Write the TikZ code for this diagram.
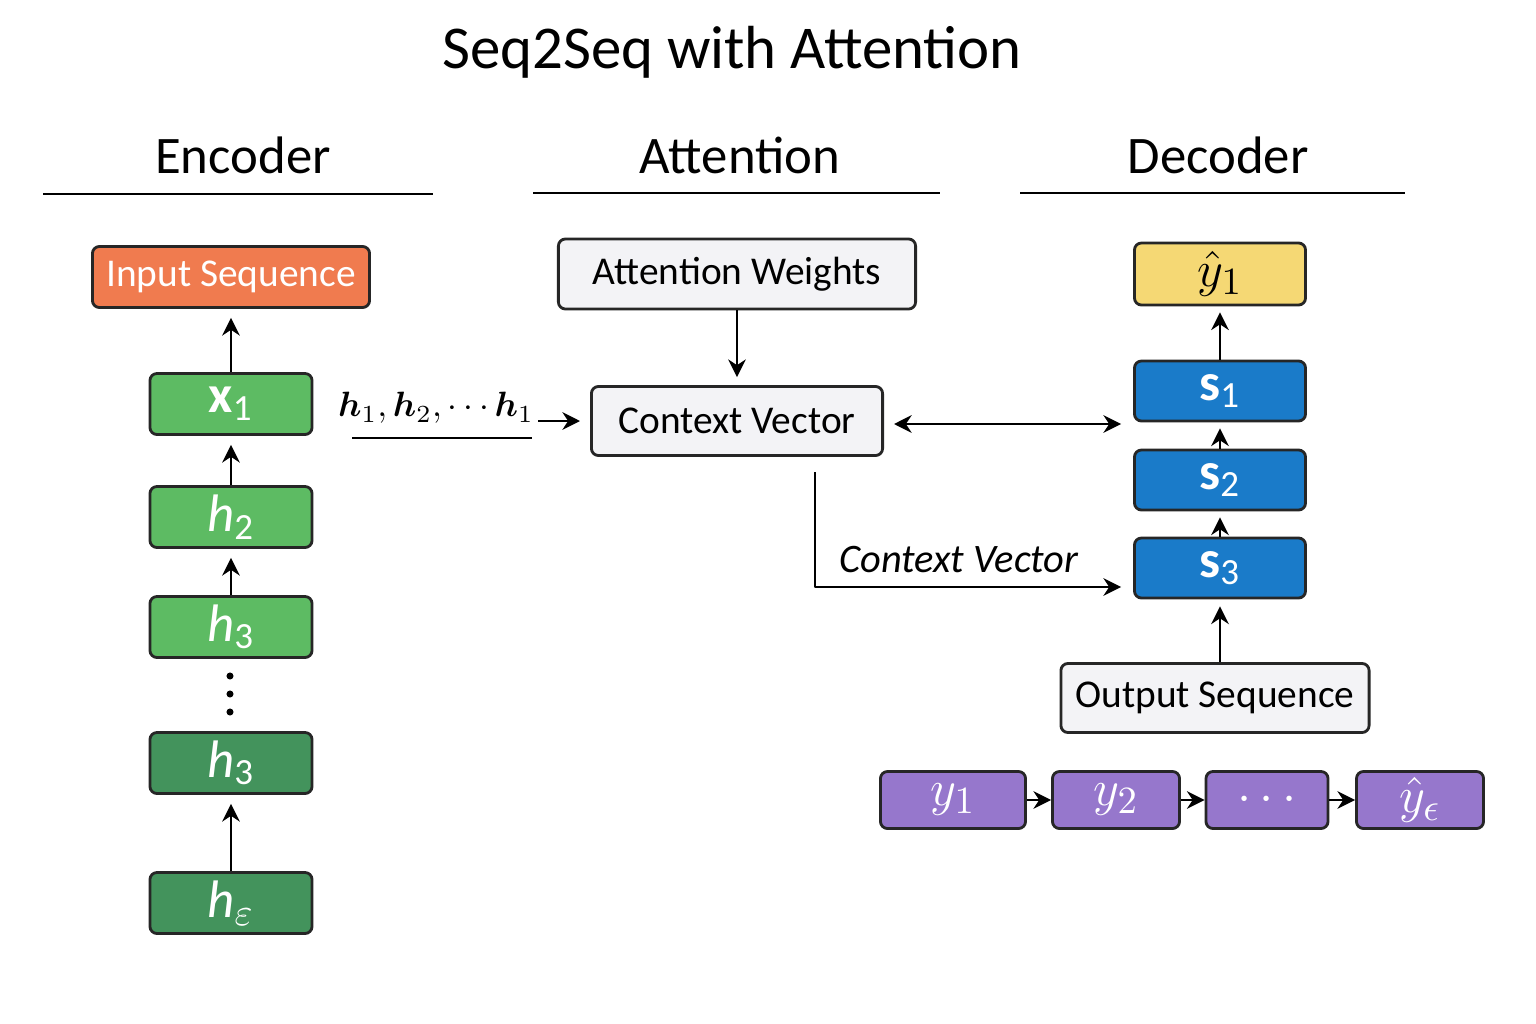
\documentclass[tikz,border=0pt]{standalone}
\usepackage{fontspec}
\usepackage{bm}
\setmainfont{Carlito}
\usetikzlibrary{arrows.meta}

\definecolor{inorange}{HTML}{F07B4F}
\definecolor{encgreen}{HTML}{5DBB63}
\definecolor{encdark}{HTML}{43935C}
\definecolor{attgray}{HTML}{F3F3F6}
\definecolor{outyellow}{HTML}{F5D874}
\definecolor{decblue}{HTML}{1A7BC9}
\definecolor{seqpurple}{HTML}{9677CC}

\begin{document}
\begin{tikzpicture}[
		x=0.01cm, y=-0.01cm,
		line join=round,
		>={Stealth[length=5pt,width=5pt]},
		box/.style={draw=black!85, line width=0.8pt, rounded corners=2pt,
			inner sep=0pt, minimum height=0.61cm, font=\fontsize{11.2}{13}\selectfont},
		symfont/.style={font=\fontsize{15}{18}\selectfont},
		encbox/.style={box, symfont, fill=encgreen, text=white, minimum width=1.62cm},
		encdarkbox/.style={encbox, fill=encdark},
		graybox/.style={box, fill=attgray, minimum height=0.69cm},
		decbox/.style={box, symfont, fill=decblue, text=white, minimum width=1.71cm, minimum height=0.6cm},
		seqbox/.style={box, symfont, fill=seqpurple, text=white, minimum height=0.57cm},
		head/.style={font=\fontsize{15}{18}\selectfont},
		arr/.style={->, line width=0.8pt}
		]
		
		\useasboundingbox (0,0) rectangle (1536,1024);
		
		% Tiêu đề
		\node[font=\fontsize{17.3}{20}\selectfont] (title) at (732,52) {Seq2Seq with Attention};
		
		% Các cột
		\node[head] (enchead) at (243,155) {Encoder};
		\node[head] (atthead) at (740,155) {Attention};
		\node[head] (dechead) at (1218,155) {Decoder};
		\draw[line width=0.8pt] (43,194) -- (433,194);
		\draw[line width=0.8pt] (533,193) -- (940,193);
		\draw[line width=0.8pt] (1020,193) -- (1405,193);
		
		% Encoder
		\node[box, fill=inorange, text=white, minimum width=2.77cm] (input) at (231,277) {Input Sequence};
		\node[encbox] (x1) at (231,404) {\textbf{x}\textsubscript{1}};
		\node[encbox] (h2) at (231,517) {\textit{h}\textsubscript{2}};
		\node[encbox] (h3) at (231,627) {\textit{h}\textsubscript{3}};
		\node[encdarkbox] (h3b) at (231,763) {\textit{h}\textsubscript{3}};
		\node[encdarkbox] (he) at (231,903) {\textit{h}\textsubscript{$\varepsilon$}};
		\foreach \y in {676,694,712}{
			\fill (230,\y) circle (1pt);
		}
		\foreach \a/\b in {x1/input, h2/x1, h3/h2, he/h3b}{
			\draw[arr, shorten >=0.09cm] (\a) -- (\b);
		}
		
		% Attention
		\node[graybox, minimum width=3.57cm, minimum height=0.70cm] (weights) at (737,274) {Attention Weights};
		\node[graybox, minimum width=2.91cm] (cv) at (737,421) {Context Vector};
		\draw[arr, shorten >=0.08cm] (weights) -- (cv);
		
		\node[font=\fontsize{10.4}{12}\selectfont, inner sep=1pt] (hlab) at (436,408) {$\bm{h}_1, \bm{h}_2, \cdots \bm{h}_1$};
		\draw[line width=0.8pt] (352,438) -- (532,438);
		\draw[arr, shorten >=0.1cm] (hlab.east |- cv.west) -- (cv.west);
		
		% Decoder
		\node[box, symfont, fill=outyellow, minimum width=1.71cm, minimum height=0.62cm] (yhat) at (1220,274) {$\hat{y}_1$};
		\node[decbox] (s1) at (1220,391) {\textbf{s}\textsubscript{1}};
		\node[decbox] (s2) at (1220,480) {\textbf{s}\textsubscript{2}};
		\node[decbox] (s3) at (1220,568) {\textbf{s}\textsubscript{3}};
		\node[graybox, minimum width=3.08cm] (outseq) at (1215,698) {Output Sequence};
		\foreach \a/\b in {s1/yhat, s2/s1, s3/s2}{
			\draw[arr, shorten >=0.06cm] (\a) -- (\b);
		}
		\draw[arr, shorten >=0.07cm] (outseq.north -| s3) -- (s3);
		
		\draw[<->, line width=0.8pt, shorten <=0.1cm, shorten >=0.12cm] ([yshift=-0.03cm]cv.east) -- ([yshift=-0.03cm]cv.east -| s1.west);
		
		\coordinate (cvfoot) at (815,472);
		\coordinate (cvturn) at (815,587);
		\draw[arr, shorten >=0.12cm] (cvfoot) -- (cvturn) -- (cvturn -| s3.west);
		\node[font=\fontsize{11.5}{14}\selectfont\itshape] (cvlab) at (959,560) {Context Vector};
		
		% Chuỗi đầu ra
		\node[seqbox, minimum width=1.45cm] (y1) at (953,800) {$y_1$};
		\node[seqbox, minimum width=1.27cm] (y2) at (1116,800) {$y_2$};
		\node[seqbox, minimum width=1.22cm] (ydots) at (1267,800) {$\cdots$};
		\node[seqbox, minimum width=1.27cm] (ye) at (1420,800) {$\hat{y}_\epsilon$};
		\foreach \a/\b in {y1/y2, y2/ydots, ydots/ye}{
			\draw[arr] (\a) -- (\b);
		}
		
	\end{tikzpicture}
\end{document}
